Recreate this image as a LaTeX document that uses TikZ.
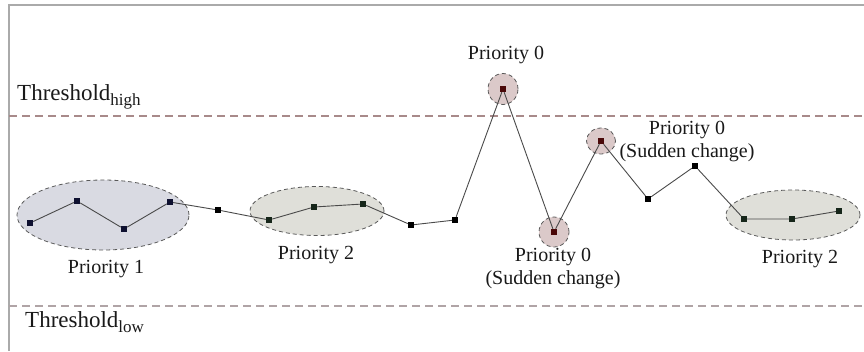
\documentclass[tikz,border=0pt]{standalone}
\usepackage{fontspec}
\setmainfont{Liberation Serif}
\usetikzlibrary{shapes.geometric}
\definecolor{framegray}{HTML}{AAAAAA}
\definecolor{highline}{HTML}{A88A8A}
\definecolor{lowline}{HTML}{B0A4A6}
\definecolor{blobblue}{HTML}{D9DAE2}
\definecolor{blobgreen}{HTML}{DFDFD9}
\definecolor{blobred}{HTML}{DBC9C9}
\definecolor{ptblue}{HTML}{0E1030}
\definecolor{ptgreen}{HTML}{16261A}
\definecolor{ptred}{HTML}{4A0808}
\definecolor{wire}{HTML}{4A4A4A}
\tikzset{
  blob/.style={ellipse, draw=black!65, dash pattern=on 4pt off 3pt, line width=0.8pt, inner sep=0pt},
  pt/.style={rectangle, minimum size=6pt, inner sep=0pt, fill=black},
  wireline/.style={draw=wire, line width=0.9pt},
  thresh/.style={dash pattern=on 8pt off 5pt, line width=1.3pt},
  lbl/.style={font=\fontsize{20}{23}\selectfont, align=center, inner sep=0pt, text=black!90},
  thlbl/.style={font=\fontsize{23}{26}\selectfont, inner sep=0pt, anchor=base west, text=black!90}
}
\newcommand{\subtxt}[1]{{\fontsize{17}{17}\selectfont\raisebox{-5.5pt}{#1}}}
\begin{document}
\begin{tikzpicture}[x=1pt,y=-1pt]
\useasboundingbox (0,0) rectangle (864,351);
% frame
\coordinate (fb) at (9,351);
\coordinate (fc) at (9,5);
\coordinate (fr) at (864,5);
\draw[framegray, line width=1.8pt] (fb) -- (fc) -- (fr);
% thresholds
\coordinate (hl) at (9,116);
\coordinate (hr) at (864,116);
\coordinate (ll) at (9,306);
\coordinate (lr) at (864,306);
\draw[thresh, highline] (hl) -- (hr);
\draw[thresh, lowline] (ll) -- (lr);
\node[thlbl] (th) at (17,100) {Threshold\subtxt{high}};
\node[thlbl] (tl) at (25,327) {Threshold\subtxt{low}};
% blobs
\node[blob, fill=blobblue, minimum width=172pt, minimum height=70pt] (e1) at (103,215) {};
\node[blob, fill=blobgreen, minimum width=134pt, minimum height=49pt] (e2) at (317,211) {};
\node[blob, fill=blobgreen, minimum width=134pt, minimum height=50pt] (e3) at (793,215) {};
\node[blob, fill=blobred, minimum width=30pt, minimum height=31pt] (c1) at (503,89) {};
\node[blob, fill=blobred, minimum width=30pt, minimum height=30pt] (c2) at (554,232) {};
\node[blob, fill=blobred, minimum width=29pt, minimum height=26pt] (c3) at (601,141) {};
% points
\node[pt, fill=ptblue] (a1) at (30,223) {};
\node[pt, fill=ptblue] (a2) at (77,201) {};
\node[pt, fill=ptblue] (a3) at (124,229) {};
\node[pt, fill=ptblue] (a4) at (170,202) {};
\node[pt] (a5) at (218,210) {};
\node[pt, fill=ptgreen] (a6) at (269,220) {};
\node[pt, fill=ptgreen] (a7) at (314,207) {};
\node[pt, fill=ptgreen] (a8) at (363,204) {};
\node[pt] (a9) at (411,225) {};
\node[pt] (a10) at (455,220) {};
\node[pt, fill=ptred] (a11) at (503,89) {};
\node[pt, fill=ptred] (a12) at (554,232) {};
\node[pt, fill=ptred] (a13) at (601,141) {};
\node[pt] (a14) at (648,199) {};
\node[pt] (a15) at (695,166) {};
\node[pt, fill=ptgreen] (a16) at (744,219) {};
\node[pt, fill=ptgreen] (a17) at (792,219) {};
\node[pt, fill=ptgreen] (a18) at (839,211) {};
\draw[wireline] (a1) -- (a2) -- (a3) -- (a4) -- (a5) -- (a6) -- (a7) -- (a8) -- (a9) -- (a10) -- (a11) -- (a12) -- (a13) -- (a14) -- (a15) -- (a16) -- (a17) -- (a18);
% labels
\node[lbl] (l1) at (106,269) {Priority 1};
\node[lbl] (l2) at (316,255) {Priority 2};
\node[lbl] (l3) at (506,55) {Priority 0};
\node[lbl] (l4) at (553,269) {Priority 0\\(Sudden change)};
\node[lbl] (l5) at (687,142) {Priority 0\\(Sudden change)};
\node[lbl] (l6) at (800,259) {Priority 2};
\end{tikzpicture}
\end{document}
